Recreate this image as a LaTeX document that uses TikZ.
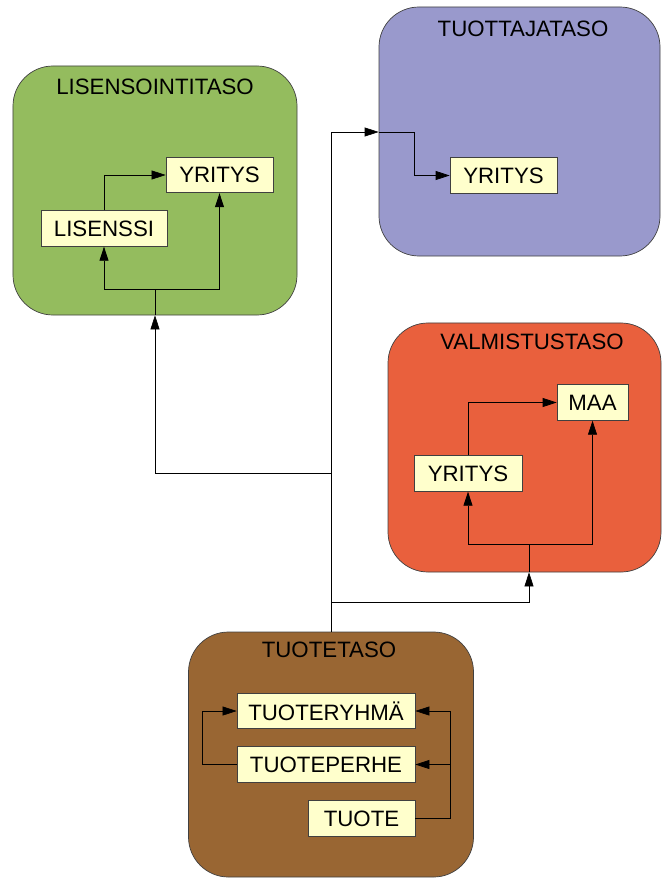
\documentclass[tikz,border=0pt]{standalone}
\usepackage{xcolor}
\usepackage{fontspec}
\setmainfont{Liberation Sans}
\usepackage{tikz}
\usetikzlibrary{arrows.meta}

\definecolor{lisgreen}{RGB}{148,188,94}
\definecolor{tuopurple}{RGB}{153,153,204}
\definecolor{valred}{RGB}{233,96,61}
\definecolor{tuobrown}{RGB}{153,102,51}
\definecolor{itemyellow}{RGB}{255,255,204}

\begin{document}
\begin{tikzpicture}[x=0.03cm, y=-0.03cm,
    every node/.style={font=\fontsize{19}{22}\selectfont},
    level/.style={draw=black!75, line width=0.6pt, rounded corners=1.2cm,
      minimum height=7.47cm, inner sep=0pt},
    item/.style={draw=black!75, fill=itemyellow, line width=0.6pt,
      minimum height=1.07cm, inner sep=0pt},
    arr/.style={-{Triangle[length=0.42cm, width=0.27cm]}, line width=0.6pt}]
      \useasboundingbox (0,0) rectangle (661,879);

      % tasot
      \node[level, fill=lisgreen, minimum width=8.52cm] (lisensointitaso) at (155,190.5){};
      \node[level, fill=tuopurple, minimum width=8.43cm] (tuottajataso) at (519.5,131.5){};
      \node[level, fill=valred, minimum width=8.19cm] (valmistustaso) at (524.5,447.5){};
      \node[level, fill=tuobrown, minimum width=8.55cm, minimum height=7.35cm] (tuotetaso) at (331,754.5){};

      \node (tLis) at (155,87){LISENSOINTITASO};
      \node (tTuo) at (523,29){TUOTTAJATASO};
      \node (tVal) at (532,342){VALMISTUSTASO};
      \node (tTuote) at (329,650){TUOTETASO};

      % laatikot
      \node[item, minimum width=3.21cm] (yritysL) at (219.5,175){YRITYS};
      \node[item, minimum width=3.78cm] (lisenssi) at (104,228.5){LISENSSI};
      \node[item, minimum width=3.21cm] (yritysT) at (503.5,175.5){YRITYS};
      \node[item, minimum width=2.13cm] (maa) at (592.5,402.5){MAA};
      \node[item, minimum width=3.24cm] (yritysV) at (468,473.5){YRITYS};
      \node[item, minimum width=5.34cm] (tuoteryhma) at (326,711){TUOTERYHMÄ};
      \node[item, minimum width=5.34cm] (tuoteperhe) at (326,764.5){TUOTEPERHE};
      \node[item, minimum width=3.21cm] (tuote) at (361.5,818.5){TUOTE};

      \coordinate (lisJ) at (155,289);
      \coordinate (valJ) at (529,544);
      \coordinate (tuoJ) at (450,818.5);
      \coordinate (perL) at (202,764.5);
      \coordinate (tuoBend) at (414,132);
      \coordinate (pTop) at (331,132);
      \coordinate (pLis) at (331,473);
      \coordinate (pVal) at (331,602);

      % runko
      \draw[line width=0.6pt] (tuotetaso.north) -- (pTop);
      \draw[arr] (pTop) -- (tuottajataso.west |- pTop);
      \draw[arr] (pLis) -| (lisensointitaso.south);
      \draw[arr] (pVal) -| (valJ |- valmistustaso.south);

      % lisensointitaso
      \draw[line width=0.6pt] (lisensointitaso.south) -- (lisJ);
      \draw[arr] (lisJ) -| (lisenssi.south);
      \draw[arr] (lisJ) -| (yritysL.south);
      \draw[arr] (lisenssi.north) |- (yritysL.west);

      % tuottajataso
      \draw[arr] (tuottajataso.west |- pTop) -- (tuoBend) |- (yritysT.west);

      % valmistustaso
      \draw[line width=0.6pt] (valJ |- valmistustaso.south) -- (valJ);
      \draw[arr] (valJ) -| (yritysV.south);
      \draw[arr] (valJ) -| (maa.south);
      \draw[arr] (yritysV.north) |- (maa.west);

      % tuotetaso
      \draw[line width=0.6pt] (tuote.east) -- (tuoJ);
      \draw[arr] (tuoJ) |- (tuoteryhma.east);
      \draw[arr] (tuoJ |- tuoteperhe.east) -- (tuoteperhe.east);
      \draw[arr] (tuoteperhe.west) -- (perL) |- (tuoteryhma.west);
    \end{tikzpicture}
\end{document}
